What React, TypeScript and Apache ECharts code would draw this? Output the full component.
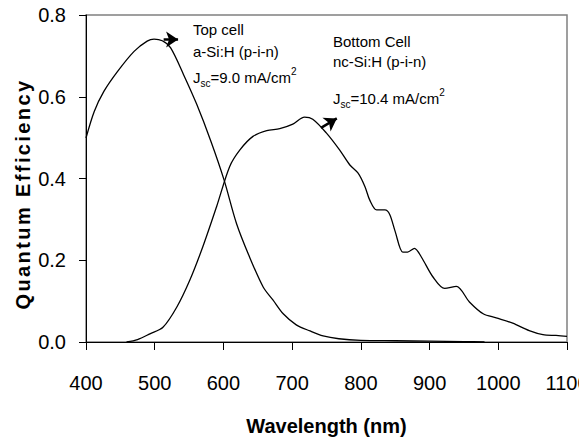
import React, { useEffect, useRef } from "react";
import * as echarts from "echarts";

// Wavelength grid (nm) and quantum efficiency for the a-Si:H top cell
const topWavelength = [400, 412, 426, 446, 470, 489, 499, 511, 523, 542, 561, 582, 601, 619, 638, 658, 672, 687, 706, 726, 745, 768, 800, 850, 900, 950, 980];
const topQE = [0.499, 0.564, 0.613, 0.662, 0.711, 0.736, 0.741, 0.737, 0.72, 0.654, 0.582, 0.49, 0.396, 0.29, 0.208, 0.134, 0.103, 0.069, 0.042, 0.027, 0.015, 0.008, 0.004, 0.003, 0.002, 0.001, 0.0];

// nc-Si:H bottom cell
const bottomWavelength = [459, 475, 493, 512, 532, 551, 570, 590, 609, 624, 643, 663, 682, 701, 718, 730, 750, 769, 784, 796, 806, 813, 823, 835, 842, 850, 861, 868, 878, 888, 905, 922, 939, 958, 978, 997, 1021, 1045, 1065, 1084, 1100];
const bottomQE = [0.0, 0.006, 0.02, 0.036, 0.085, 0.151, 0.233, 0.331, 0.429, 0.47, 0.503, 0.517, 0.522, 0.533, 0.55, 0.545, 0.511, 0.47, 0.433, 0.413, 0.38, 0.347, 0.323, 0.323, 0.312, 0.27, 0.22, 0.22, 0.229, 0.208, 0.159, 0.131, 0.136, 0.098, 0.069, 0.059, 0.046, 0.028, 0.018, 0.016, 0.014];

// arrows pointing from each curve towards its label: [wavelength, QE]
const topArrow = [[513, 0.74], [534, 0.74]];
const bottomArrow = [[742, 0.524], [765, 0.547]];

const xTicks = { min: 400, max: 1100, interval: 100 };
const yTicks = { min: 0, max: 0.8, interval: 0.2 };

const FONT = "'Liberation Sans', Arial, Helvetica, sans-serif";

export default function App() {
  const ref = useRef<HTMLDivElement>(null);

  useEffect(() => {
    if (!ref.current) return;
    const chart = echarts.init(ref.current, null, { renderer: "svg" });

    const richBase = {
      b: { fontSize: 15, fontFamily: FONT, color: "#000", lineHeight: 22, verticalAlign: "middle" },
      sub: { fontSize: 10, fontFamily: FONT, color: "#000", lineHeight: 10, verticalAlign: "bottom" },
      sup: { fontSize: 10, fontFamily: FONT, color: "#000", lineHeight: 10, verticalAlign: "top" },
    };

    const annot = (x: number, y: number, text: string) => ({
      type: "text",
      x,
      y,
      style: { text, fontSize: 15, fontFamily: FONT, fill: "#000", align: "left", verticalAlign: "middle" },
    });

    const mk = (pts: number[][]) => ({
      silent: true,
      symbol: ["none", "arrow"],
      symbolSize: 12,
      label: { show: false },
      emphasis: { disabled: true },
      lineStyle: { color: "#000", width: 2.5, type: "solid" },
      itemStyle: { color: "#000" },
      data: [[{ coord: pts[0] }, { coord: pts[1] }]],
    });

    chart.setOption({
      animation: false,
      backgroundColor: "#fff",
      grid: {
        left: 86,
        right: 12,
        top: 15,
        bottom: 98,
        containLabel: false,
        outerBoundsMode: "none",
        show: true,
        borderColor: "#808080",
        borderWidth: 1.5,
      },
      xAxis: {
        type: "value",
        min: xTicks.min,
        max: xTicks.max,
        interval: xTicks.interval,
        name: "Wavelength (nm)",
        nameLocation: "middle",
        nameGap: 74,
        nameTextStyle: { fontSize: 20, fontWeight: "bold", fontFamily: FONT, color: "#000" },
        axisLine: { show: true, onZero: false, lineStyle: { color: "#000", width: 1 } },
        axisTick: { show: true, inside: false, length: 8, lineStyle: { color: "#000", width: 1 } },
        axisLabel: {
          fontSize: 20,
          fontFamily: FONT,
          color: "#000",
          margin: 31,
          hideOverlap: false,
          showMaxLabel: true,
          formatter: (v: number) => String(v),
        },
        splitLine: { show: false },
      },
      yAxis: {
        type: "value",
        min: yTicks.min,
        max: yTicks.max,
        interval: yTicks.interval,
        axisLine: { show: true, onZero: false, lineStyle: { color: "#000", width: 1 } },
        axisTick: { show: true, inside: false, length: 7, lineStyle: { color: "#000", width: 1 } },
        axisLabel: {
          fontSize: 20,
          fontFamily: FONT,
          color: "#000",
          margin: 20,
          formatter: (v: number) => v.toFixed(1),
        },
        splitLine: { show: false },
      },
      series: [
        {
          name: "Top cell",
          type: "line",
          data: topWavelength.map((w, i) => [w, topQE[i]]),
          showSymbol: false,
          smooth: 0.3,
          lineStyle: { color: "#000", width: 1.3 },
          markLine: mk(topArrow),
        },
        {
          name: "Bottom Cell",
          type: "line",
          data: bottomWavelength.map((w, i) => [w, bottomQE[i]]),
          showSymbol: false,
          smooth: 0.3,
          lineStyle: { color: "#000", width: 1.3 },
          markLine: mk(bottomArrow),
        },
      ],
      graphic: [
        {
          type: "text",
          x: 23,
          y: 194,
          rotation: Math.PI / 2,
          style: {
            text: "Quantum Efficiency",
            fontSize: 20,
            fontWeight: "bold",
            fontFamily: FONT,
            fill: "#000",
            align: "center",
            verticalAlign: "middle",
          },
        },
        annot(193, 29.5, "Top cell"),
        annot(193, 51, "a-Si:H (p-i-n)"),
        {
          type: "text",
          x: 193,
          y: 77,
          style: {
            text: "{b|J}{sub|sc}{b|=9.0 mA/cm}{sup|2}",
            rich: richBase,
            align: "left",
            verticalAlign: "middle",
          },
        },
        annot(333, 41, "Bottom Cell"),
        annot(333, 61, "nc-Si:H (p-i-n)"),
        {
          type: "text",
          x: 333,
          y: 98.5,
          style: {
            text: "{b|J}{sub|sc}{b|=10.4 mA/cm}{sup|2}",
            rich: richBase,
            align: "left",
            verticalAlign: "middle",
          },
        },
      ],
    });

    const spaceTitle = () => {
      if (!ref.current) return;
      ref.current.querySelectorAll("text").forEach((t) => {
        if (t.textContent === "Quantum Efficiency") {
          (t as SVGTextElement).style.letterSpacing = "2.4px";
        }
      });
    };
    spaceTitle();
    chart.on("finished", spaceTitle);

    return () => {
      chart.dispose();
    };
  }, []);

  return (
    <div
      ref={ref}
      style={{ position: "absolute", left: 0, top: 0, width: 579, height: 440, background: "#fff" }}
    />
  );
}
